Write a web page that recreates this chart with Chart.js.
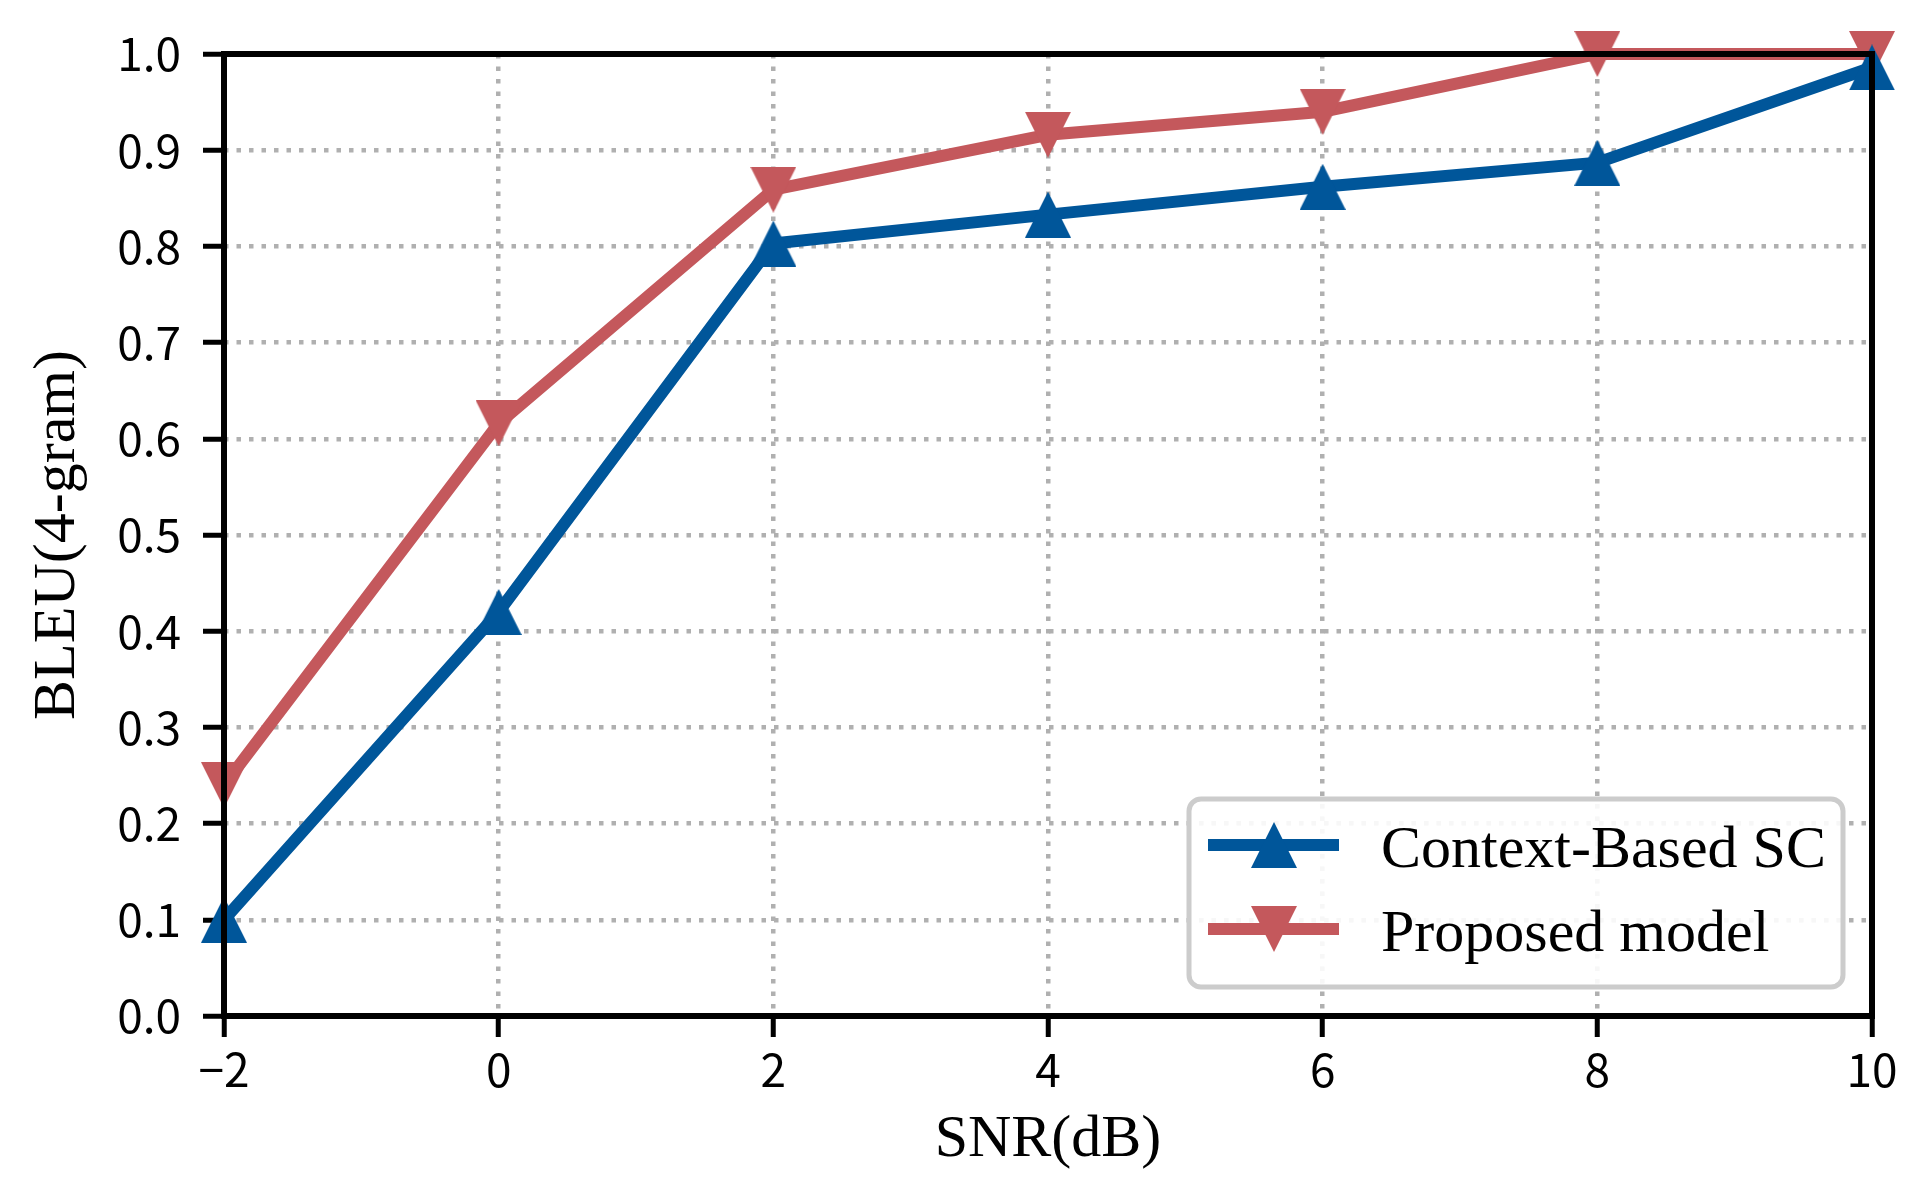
<!DOCTYPE html>
<html lang="en">
<head>
<meta charset="utf-8">
<script src="https://cdn.jsdelivr.net/npm/chart.js@4.4.1/dist/chart.umd.min.js"></script>
<style>
  html, body { margin: 0; padding: 0; background: #fff; }
  #wrap { width: 1916px; height: 1195px; }
</style>
</head>
<body>
<div id="wrap"><canvas id="chart" width="1916" height="1195"></canvas></div>

<script type="text/javascript">
"use strict";

// values
var snr = [-2, 0, 2, 4, 6, 8, 10];
var contextBased = [0.100, 0.420, 0.803, 0.833, 0.862, 0.887, 0.986];
var proposed = [0.240, 0.616, 0.859, 0.916, 0.940, 1.000, 1.000];
var seriesNames = ['Context-Based SC', 'Proposed model'];
var xTicks = [-2, 0, 2, 4, 6, 8, 10];
var yTicks = [0.0, 0.1, 0.2, 0.3, 0.4, 0.5, 0.6, 0.7, 0.8, 0.9, 1.0];

var blue = '#00569a';
var red = '#c4585c';
var serif = '"Liberation Serif", "Times New Roman", serif';
var sans = '"Noto Sans CJK SC", "Noto Sans", sans-serif';

// matplotlib style triangles (width == height, centred on the point)
function triangle(color, up) {
  var s = 46;
  var c = document.createElement('canvas');
  c.width = s; c.height = s;
  var g = c.getContext('2d');
  g.fillStyle = color;
  g.beginPath();
  if (up) {
    g.moveTo(s / 2, 0); g.lineTo(s, s); g.lineTo(0, s);
  } else {
    g.moveTo(0, 0); g.lineTo(s, 0); g.lineTo(s / 2, s);
  }
  g.closePath();
  g.fill();
  return c;
}
var upMark = triangle(blue, true);
var downMark = triangle(red, false);

function pairs(ys) {
  return snr.map(function (x, i) { return {x: x, y: ys[i]}; });
}

// box around the plot, drawn over the lines like matplotlib spines
var framePlugin = {
  id: 'frame',
  afterDatasetsDraw: function (chart) {
    var a = chart.chartArea, ctx = chart.ctx;
    ctx.save();
    ctx.strokeStyle = '#000';
    ctx.lineWidth = 6;
    ctx.strokeRect(a.left, a.top, a.right - a.left, a.bottom - a.top);
    ctx.restore();
  }
};

// legend in the lower right corner of the plot
var legendPlugin = {
  id: 'boxLegend',
  afterDraw: function (chart) {
    var a = chart.chartArea, ctx = chart.ctx;
    var w = 654, h = 188;
    var x0 = a.right - 29 - w, y0 = a.bottom - 29 - h;
    ctx.save();
    ctx.beginPath();
    ctx.roundRect(x0, y0, w, h, 12);
    ctx.fillStyle = 'rgba(255,255,255,0.9)';
    ctx.fill();
    ctx.lineWidth = 5;
    ctx.strokeStyle = '#cccccc';
    ctx.stroke();

    chart.data.datasets.forEach(function (ds, i) {
      var cy = y0 + 46 + i * 84;
      ctx.beginPath();
      ctx.moveTo(x0 + 19, cy);
      ctx.lineTo(x0 + 150, cy);
      ctx.lineWidth = 12;
      ctx.strokeStyle = ds.borderColor;
      ctx.stroke();
      var m = ds.pointStyle;
      ctx.drawImage(m, x0 + 85 - m.width / 2, cy - m.height / 2);
      ctx.fillStyle = '#000';
      ctx.font = '60px ' + serif;
      ctx.textBaseline = 'alphabetic';
      ctx.textAlign = 'left';
      ctx.fillText(ds.label, x0 + 192, cy + 22);
    });
    ctx.restore();
  }
};

var ctx1 = document.getElementById('chart');
var lineChart = new Chart(ctx1, {
  type: 'line',
  data: {
    datasets: [{
      label: seriesNames[0],
      data: pairs(contextBased),
      borderColor: blue,
      backgroundColor: blue,
      borderWidth: 12,
      pointStyle: upMark,
      pointRadius: 23,
      pointHoverRadius: 23,
      fill: false,
      clip: false
    }, {
      label: seriesNames[1],
      data: pairs(proposed),
      borderColor: red,
      backgroundColor: red,
      borderWidth: 12,
      pointStyle: downMark,
      pointRadius: 23,
      pointHoverRadius: 23,
      fill: false,
      clip: false
    }]
  },
  options: {
    responsive: false,
    animation: false,
    devicePixelRatio: 1,
    layout: { padding: { top: 54, right: 44, left: 0, bottom: 0 } },
    plugins: {
      legend: { display: false },
      tooltip: { enabled: false }
    },
    scales: {
      x: {
        type: 'linear',
        min: -2,
        max: 10,
        afterBuildTicks: function (scale) {
          scale.ticks = xTicks.map(function (v) { return {value: v}; });
        },
        afterFit: function (scale) { scale.height = 179; },
        ticks: {
          color: '#000',
          font: { family: sans, size: 46 },
          padding: 5,
          maxRotation: 0,
          autoSkip: false,
          callback: function (v) { return v < 0 ? '\u2212' + Math.abs(v) : String(v); }
        },
        grid: {
          color: '#b0b0b0',
          lineWidth: 4.5,
          tickColor: '#000',
          tickWidth: 5,
          tickLength: 21
        },
        border: { display: false, dash: [4.5, 8] },
        title: {
          display: true,
          text: 'SNR(dB)',
          color: '#000',
          font: { family: serif, size: 60 },
          padding: { top: 0, bottom: 19 }
        }
      },
      y: {
        type: 'linear',
        min: 0,
        max: 1,
        afterBuildTicks: function (scale) {
          scale.ticks = yTicks.map(function (v) { return {value: v}; });
        },
        afterFit: function (scale) { scale.width = 224; },
        ticks: {
          color: '#000',
          font: { family: sans, size: 46 },
          padding: 22,
          autoSkip: false,
          callback: function (v) { return Number(v).toFixed(1); }
        },
        grid: {
          color: '#b0b0b0',
          lineWidth: 4.5,
          tickColor: '#000',
          tickWidth: 5,
          tickLength: 21
        },
        border: { display: false, dash: [4.5, 8] },
        title: {
          display: true,
          text: 'BLEU(4-gram)',
          color: '#000',
          font: { family: serif, size: 60 },
          padding: { top: 22, bottom: 0 }
        }
      }
    }
  },
  plugins: [framePlugin, legendPlugin]
});
</script>
</body>
</html>
